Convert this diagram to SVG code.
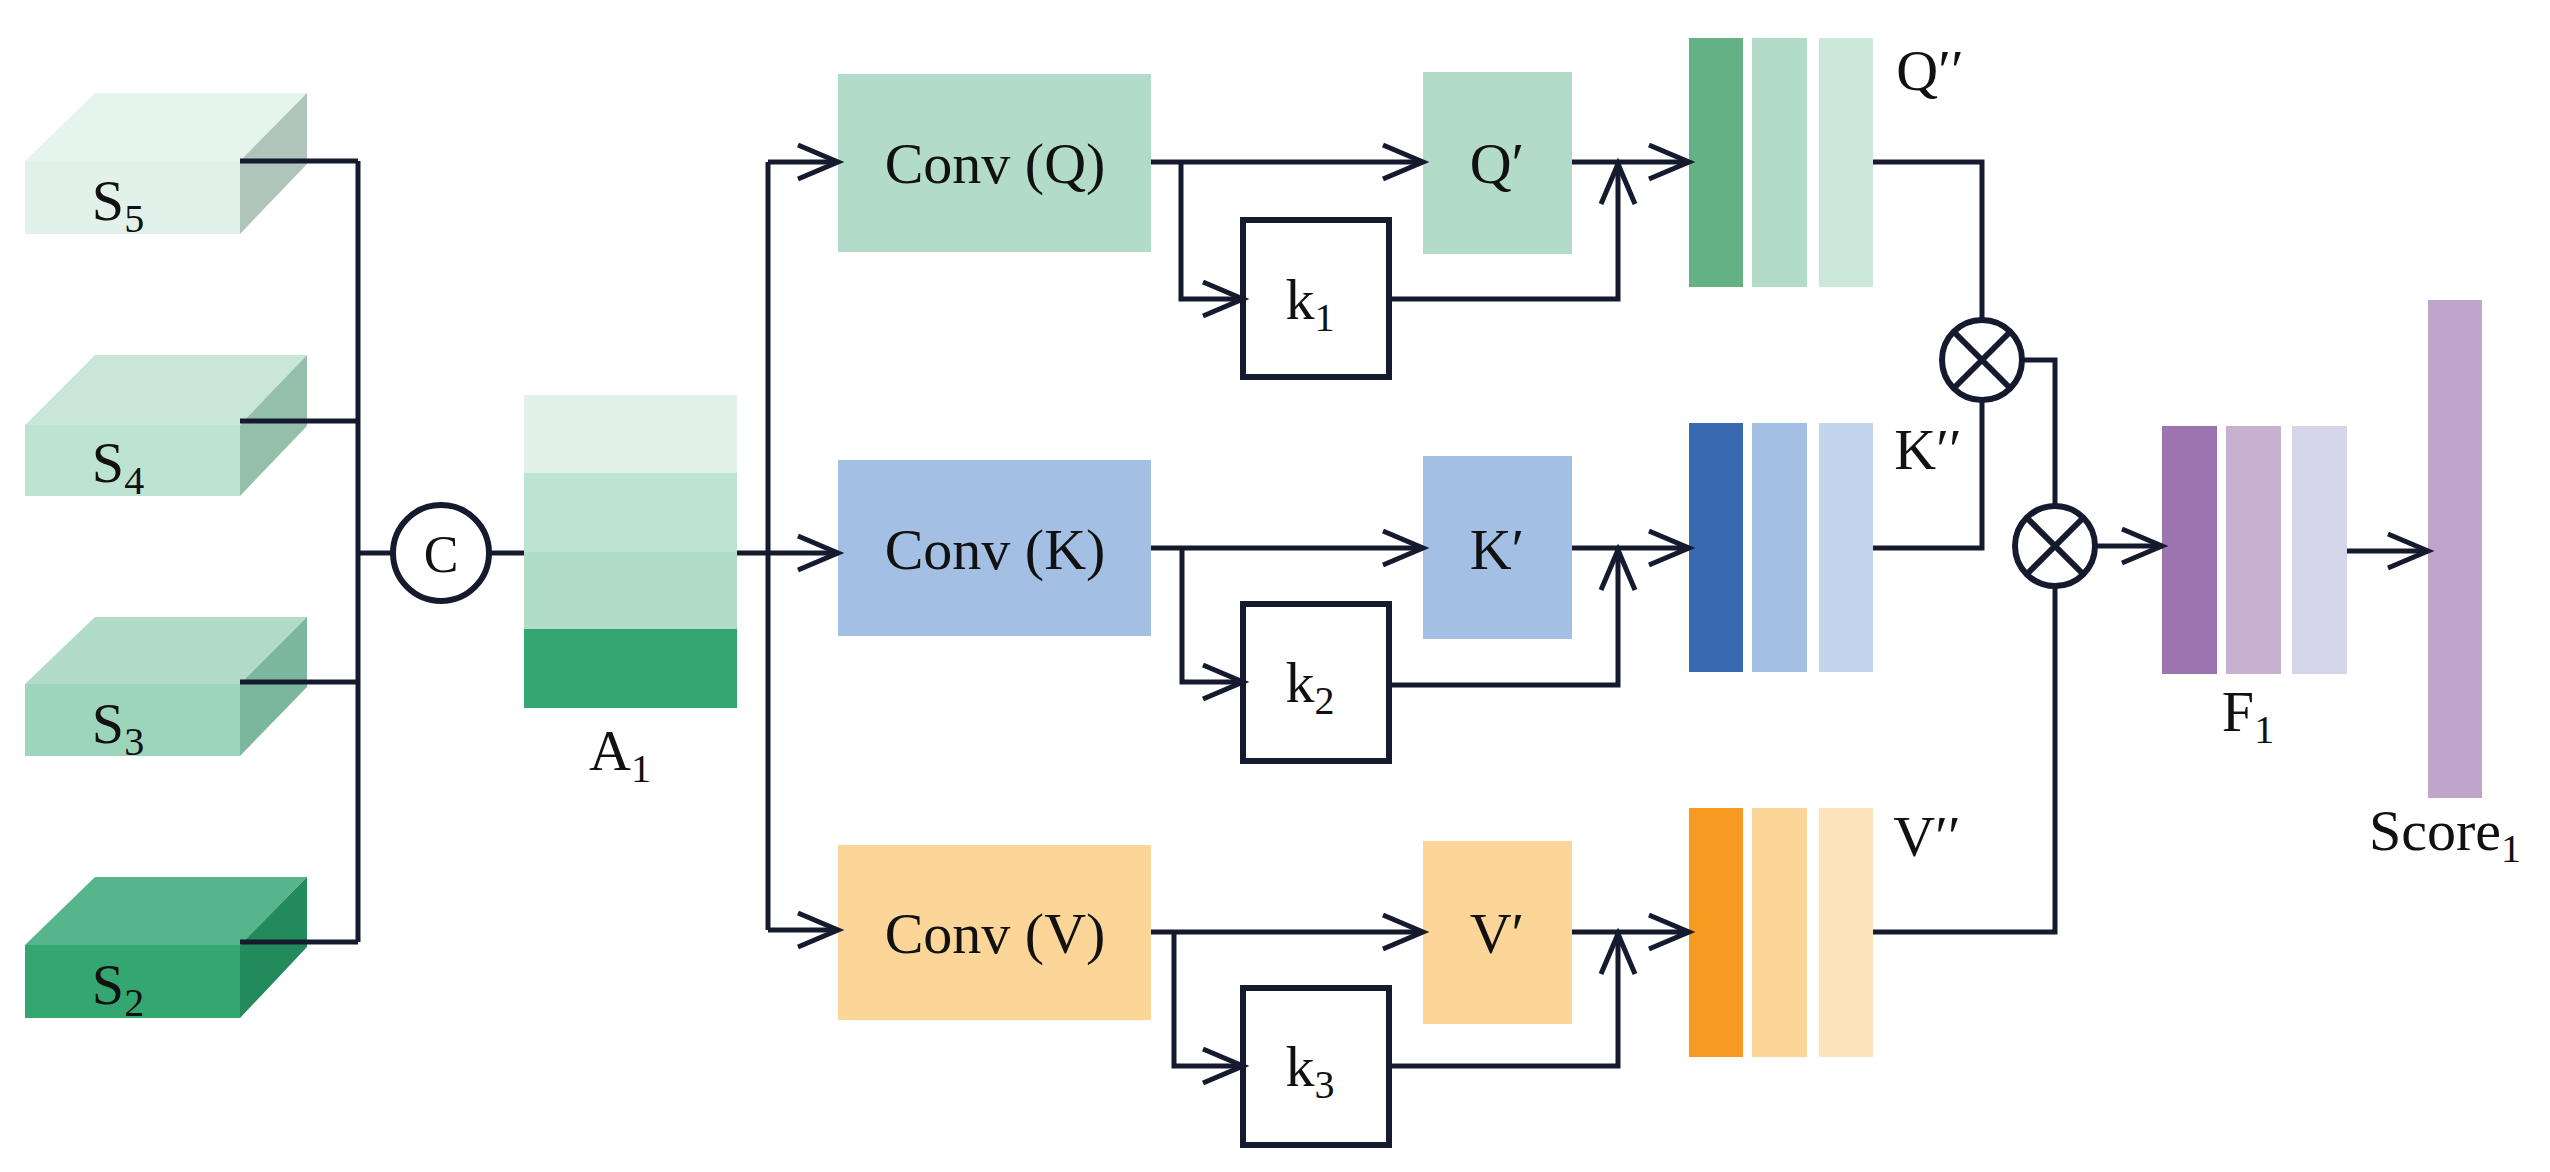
<svg xmlns="http://www.w3.org/2000/svg" width="2550" height="1172" viewBox="0 0 2550 1172">
<style>
text{font-family:"Liberation Serif","Times New Roman",serif;fill:#111;font-size:58px;text-anchor:middle}
.sub{font-size:40px}
.ln{fill:none;stroke:#161a2e;stroke-width:5}
.box{fill:#fff;stroke:#161a2e;stroke-width:6}
</style>
<defs>
<marker id="ar" markerUnits="userSpaceOnUse" markerWidth="50" markerHeight="50" refX="42" refY="20" orient="auto" overflow="visible">
<path d="M2,3 L42,20 L2,37" fill="none" stroke="#161a2e" stroke-width="5"/>
</marker>
</defs>
<g id="S5"><polygon points="25,161 95,93 307,93 240,161" fill="#e6f4ee"/><polygon points="240,161 307,93 307,164 240,234" fill="#afc4bb"/><rect x="25" y="161" width="215" height="73" fill="#e2f2eb"/><text x="118" y="220">S<tspan class="sub" dy="12">5</tspan></text></g>
<g id="S4"><polygon points="25,425 95,355 307,355 240,425" fill="#c8e7da"/><polygon points="240,425 307,355 307,426 240,496" fill="#94bfaa"/><rect x="25" y="425" width="215" height="71" fill="#bde3d3"/><text x="118" y="482">S<tspan class="sub" dy="12">4</tspan></text></g>
<g id="S3"><polygon points="25,684 95,617 307,617 240,684" fill="#b2dcc9"/><polygon points="240,684 307,617 307,687 240,756" fill="#7ab79c"/><rect x="25" y="684" width="215" height="72" fill="#9dd5bc"/><text x="118" y="743">S<tspan class="sub" dy="12">3</tspan></text></g>
<g id="S2"><polygon points="25,945 95,877 307,877 240,945" fill="#57b58b"/><polygon points="240,945 307,877 307,947 240,1018" fill="#238a5c"/><rect x="25" y="945" width="215" height="73" fill="#34a672"/><text x="118" y="1004">S<tspan class="sub" dy="12">2</tspan></text></g>
<g id="C"><circle cx="441" cy="553" r="48" fill="#fff" stroke="#161a2e" stroke-width="6"/><text x="441" y="572" style="font-size:52px">C</text></g>
<g id="A1"><rect x="524" y="395" width="213" height="78" fill="#e2f2eb"/><rect x="524" y="473" width="213" height="79" fill="#bde3d3"/><rect x="524" y="552" width="213" height="77" fill="#b0dcc8"/><rect x="524" y="629" width="213" height="79" fill="#34a672"/><text x="620" y="770">A<tspan class="sub" dy="12">1</tspan></text></g>
<g id="ConvQ"><rect x="838" y="74" width="313" height="178" fill="#b2dcc9"/><text x="995" y="183">Conv (Q)</text></g>
<g id="ConvK"><rect x="838" y="460" width="313" height="176" fill="#a4bfe4"/><text x="995" y="569">Conv (K)</text></g>
<g id="ConvV"><rect x="838" y="845" width="313" height="175" fill="#fcd699"/><text x="995" y="953">Conv (V)</text></g>
<g id="Qp"><rect x="1423" y="72" width="149" height="182" fill="#b2dcc9"/><text x="1497" y="183">Q′</text></g>
<g id="Kp"><rect x="1423" y="456" width="149" height="183" fill="#a4bfe4"/><text x="1497" y="569">K′</text></g>
<g id="Vp"><rect x="1423" y="841" width="149" height="183" fill="#fcd699"/><text x="1497" y="953">V′</text></g>
<g id="k1"><rect class="box" x="1243" y="220" width="146" height="157"/><text x="1310" y="319">k<tspan class="sub" dy="12">1</tspan></text></g>
<g id="k2"><rect class="box" x="1243" y="604" width="146" height="157"/><text x="1310" y="702">k<tspan class="sub" dy="12">2</tspan></text></g>
<g id="k3"><rect class="box" x="1243" y="988" width="146" height="157"/><text x="1310" y="1086">k<tspan class="sub" dy="12">3</tspan></text></g>
<g id="Qpp"><rect x="1689" y="38" width="54" height="249" fill="#65b186"/><rect x="1752" y="38" width="55" height="249" fill="#b2dcc9"/><rect x="1819" y="38" width="54" height="249" fill="#cce8da"/><text x="1930" y="90">Q′′</text></g>
<g id="Kpp"><rect x="1689" y="423" width="54" height="249" fill="#3869b1"/><rect x="1752" y="423" width="55" height="249" fill="#a4bfe4"/><rect x="1819" y="423" width="54" height="249" fill="#c2d5ed"/><text x="1928" y="469">K′′</text></g>
<g id="Vpp"><rect x="1689" y="808" width="54" height="249" fill="#f79a22"/><rect x="1752" y="808" width="55" height="249" fill="#fcd699"/><rect x="1819" y="808" width="54" height="249" fill="#fde4bc"/><text x="1927" y="856">V′′</text></g>
<g id="M1"><circle cx="1982" cy="360" r="40" fill="#fff" stroke="#161a2e" stroke-width="6"/><path class="ln" d="M1954,332 L2010,388 M2010,332 L1954,388" style="stroke-width:6"/></g>
<g id="M2"><circle cx="2055" cy="546" r="40" fill="#fff" stroke="#161a2e" stroke-width="6"/><path class="ln" d="M2027,518 L2083,574 M2083,518 L2027,574" style="stroke-width:6"/></g>
<g id="F1"><rect x="2162" y="426" width="55" height="248" fill="#9b74b0"/><rect x="2226" y="426" width="55" height="248" fill="#c8b0d0"/><rect x="2292" y="426" width="55" height="248" fill="#d4d5e9"/><text x="2248" y="731">F<tspan class="sub" dy="12">1</tspan></text></g>
<g id="Score"><rect x="2428" y="300" width="54" height="498" fill="#bfa5cc"/><text x="2445" y="850">Score<tspan class="sub" dy="12">1</tspan></text></g>
<g id="connectors">
<path class="ln" d="M240,161 H358 M240,421 H358 M240,682 H358 M240,942 H358 M358,161 V942 M358,553 H393 M489,553 H524"/>
<path class="ln" d="M737,553 H768 M768,162 V930"/>
<path class="ln" marker-end="url(#ar)" d="M768,162 H838"/>
<path class="ln" marker-end="url(#ar)" d="M768,553 H838"/>
<path class="ln" marker-end="url(#ar)" d="M768,930 H838"/>
<path class="ln" marker-end="url(#ar)" d="M1151,162 H1423"/>
<path class="ln" marker-end="url(#ar)" d="M1181,162 V299 H1243"/>
<path class="ln" marker-end="url(#ar)" d="M1389,299 H1618 V164"/>
<path class="ln" marker-end="url(#ar)" d="M1572,162 H1689"/>
<path class="ln" marker-end="url(#ar)" d="M1151,548 H1423"/>
<path class="ln" marker-end="url(#ar)" d="M1182,548 V682 H1243"/>
<path class="ln" marker-end="url(#ar)" d="M1389,685 H1618 V550"/>
<path class="ln" marker-end="url(#ar)" d="M1572,548 H1689"/>
<path class="ln" marker-end="url(#ar)" d="M1151,932 H1423"/>
<path class="ln" marker-end="url(#ar)" d="M1174,932 V1066 H1243"/>
<path class="ln" marker-end="url(#ar)" d="M1389,1066 H1618 V934"/>
<path class="ln" marker-end="url(#ar)" d="M1572,932 H1689"/>
<path class="ln" d="M1873,162 H1982 V320 M1873,548 H1982 V400 M2022,360 H2055 V506 M1873,932 H2055 V586"/>
<path class="ln" marker-end="url(#ar)" d="M2095,546 H2162"/>
<path class="ln" marker-end="url(#ar)" d="M2347,551 H2428"/>
</g>
</svg>
